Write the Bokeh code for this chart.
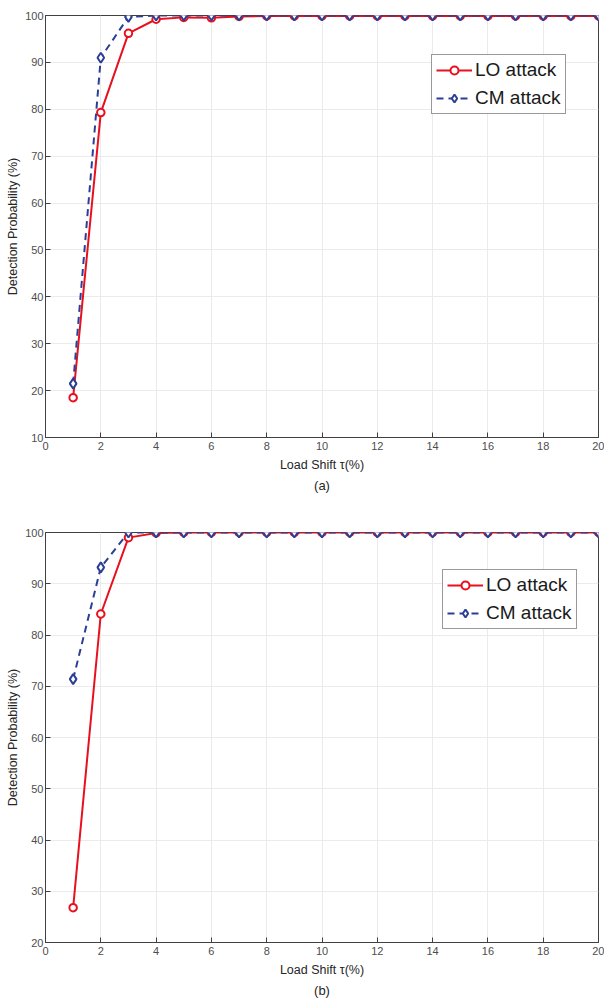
from bokeh.plotting import figure
from bokeh.layouts import column
from bokeh.models import Title, Range1d, FixedTicker
from bokeh.embed import file_html
from bokeh.resources import INLINE

shift = list(range(1, 21))
lo_a = [18.5, 79.3, 96.2, 99.2, 99.6, 99.5, 99.8, 99.9, 99.9, 99.9, 99.9, 99.9, 99.9, 99.9, 99.9, 99.9, 99.9, 99.9, 99.9, 99.9]
cm_a = [21.5, 91.0, 99.7, 100, 100, 100, 100, 100, 100, 100, 100, 100, 100, 100, 100, 100, 100, 100, 100, 100]
lo_b = [26.8, 84.1, 99.0, 99.9, 100, 100, 100, 100, 100, 100, 100, 100, 100, 100, 100, 100, 100, 100, 100, 100]
cm_b = [71.4, 93.2, 100, 100, 100, 100, 100, 100, 100, 100, 100, 100, 100, 100, 100, 100, 100, 100, 100, 100]

x_ticks = list(range(0, 21, 2))
RED = "#e8101e"
BLUE = "#2b3f94"
FONT = "Liberation Sans"
AX = "#404040"
TXT = "#4d4d4d"


def style_axis(ax):
    ax.axis_line_color = AX
    ax.major_tick_line_color = AX
    ax.major_tick_in = 5
    ax.major_tick_out = 0
    ax.minor_tick_line_color = None
    ax.major_label_text_font = FONT
    ax.major_label_text_color = TXT
    ax.major_label_text_font_size = "11px"
    ax.axis_label_text_font = FONT
    ax.axis_label_text_font_size = "12.5px"
    ax.axis_label_text_font_style = "normal"
    ax.axis_label_text_color = "#262626"


def make(lo, cm, ymin, height, top, bottom, caption, leg_loc):
    p = figure(width=604, height=height, output_backend="svg", toolbar_location=None,
               x_range=Range1d(0, 20), y_range=Range1d(ymin, 100),
               min_border_left=45, min_border_right=6, min_border_top=top, min_border_bottom=bottom)
    p.background_fill_color = "white"
    p.border_fill_color = "white"
    p.outline_line_color = AX
    p.outline_line_width = 1
    y_ticks = list(range(ymin, 101, 10))
    p.xaxis.ticker = FixedTicker(ticks=x_ticks)
    p.yaxis.ticker = FixedTicker(ticks=y_ticks)
    style_axis(p.xaxis[0])
    style_axis(p.yaxis[0])

    p.xaxis.axis_label = "Load Shift τ(%)"
    p.yaxis.axis_label = "Detection Probability (%)"
    p.xaxis.axis_label_standoff = 5
    p.yaxis.axis_label_standoff = 2
    p.xaxis.major_label_standoff = 4
    p.yaxis.major_label_standoff = 2
    p.grid.grid_line_color = "#ebebeb"
    p.grid.grid_line_width = 1

    cap = Title(text=caption, align="center", text_font=FONT, text_font_size="13px",
                text_font_style="normal", text_color="#262626", standoff=2)
    p.add_layout(cap, "below")

    p.line(shift, lo, line_color=RED, line_width=2, legend_label="LO attack")
    p.scatter(shift, lo, marker="circle", size=7.5, line_color=RED, line_width=2,
              fill_color="white", legend_label="LO attack")
    p.line(shift, cm, line_color=BLUE, line_width=2, line_dash="7 5", legend_label="CM attack")
    p.scatter(shift, cm, marker="diamond", size=10, line_color=BLUE, line_width=2,
              fill_color="white", legend_label="CM attack")

    lg = p.legend[0]
    lg.location = leg_loc
    lg.label_text_font = FONT
    lg.label_text_font_size = "19px"
    lg.label_text_color = "#1a1a1a"
    lg.border_line_color = "#333333"
    lg.border_line_width = 1
    lg.background_fill_alpha = 1
    lg.glyph_width = 36
    lg.glyph_height = 20
    lg.label_standoff = 3
    lg.label_height = 20
    lg.spacing = 6
    lg.padding = 4
    lg.margin = 0
    return p


p1 = make(lo_a, cm_a, 10, 505, 15, 68, "(a)", (386, 323))
p2 = make(lo_b, cm_b, 20, 497, 27, 60, "(b)", (397, 313))
p = column(p1, p2, spacing=0)
open("out.html", "w").write(file_html(p, INLINE))
